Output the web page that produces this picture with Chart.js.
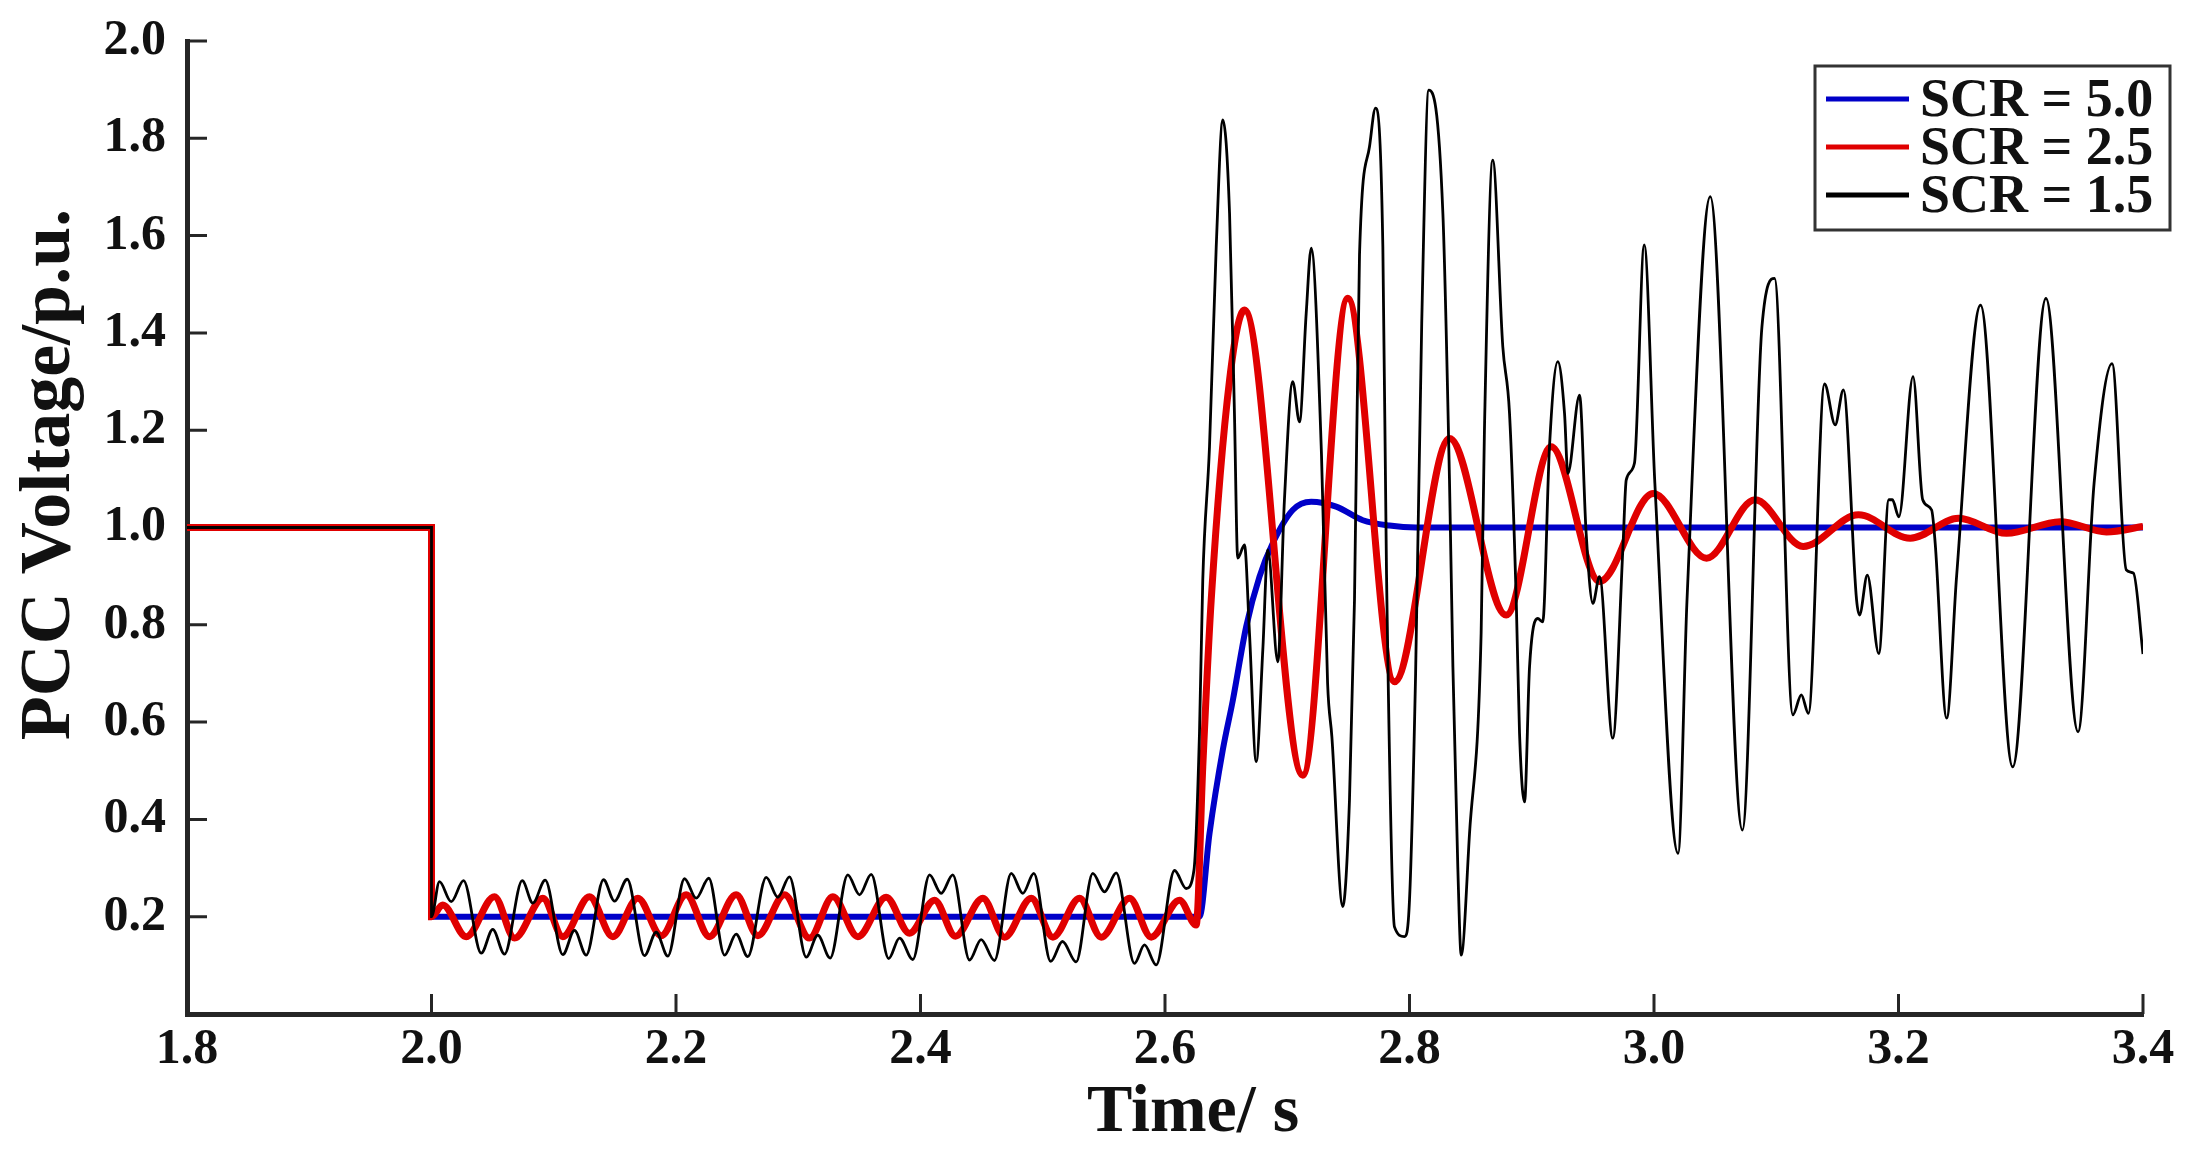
<!DOCTYPE html>
<html>
<head>
<meta charset="utf-8">
<title>PCC Voltage</title>
<script src="https://cdn.jsdelivr.net/npm/chart.js@4.4.1/dist/chart.umd.min.js"></script>
<style>
  html, body { margin: 0; padding: 0; background: #fff; }
  #wrap { width: 2209px; height: 1166px; position: relative; }
</style>
</head>
<body>
<div id="wrap"><canvas id="pcc"></canvas></div>
<script>
// axis ticks
const xTicks = [1.8, 2.0, 2.2, 2.4, 2.6, 2.8, 3.0, 3.2, 3.4];
const yTicks = [0.2, 0.4, 0.6, 0.8, 1.0, 1.2, 1.4, 1.6, 1.8, 2.0];

const seriesNames = ['SCR = 5.0', 'SCR = 2.5', 'SCR = 1.5'];

// SCR = 5.0  (time s / voltage p.u.)
const blueT = [1.8, 2.0, 2.0, 2.6282, 2.6364, 2.6473, 2.6555, 2.6664, 2.6773, 2.6882,
  2.7045, 2.7196, 2.7400, 2.7618, 2.7836, 2.8055, 3.4];
const blueV = [1.0, 1.0, 0.2, 0.2, 0.371, 0.543, 0.645, 0.796, 0.899, 0.968,
  1.036, 1.053, 1.043, 1.015, 1.004, 1.0, 1.0];

// SCR = 2.5
const redT = [1.8, 2.0, 2.0,
  2.0092, 2.0284, 2.0515, 2.0679, 2.0911, 2.1074, 2.1292, 2.1483, 2.1688, 2.1879,
  2.2083, 2.2274, 2.2492, 2.2669, 2.2888, 2.3092, 2.3283, 2.3487, 2.3719, 2.3910,
  2.4115, 2.4286, 2.4510, 2.4687, 2.4906, 2.5083, 2.5301, 2.5478, 2.5710, 2.5887,
  2.6119, 2.6255,
  2.6309, 2.6378, 2.6528, 2.6650, 2.7127, 2.7495, 2.7877, 2.8327, 2.8791, 2.9159,
  2.9554, 2.9993, 3.0430, 3.0826, 3.1220, 3.1673, 3.2096, 3.2491, 3.2884, 3.3323,
  3.3701, 3.4];
const redV = [1.0, 1.0, 0.2,
  0.224, 0.159, 0.241, 0.156, 0.238, 0.159, 0.241, 0.159, 0.238, 0.161,
  0.245, 0.159, 0.245, 0.161, 0.245, 0.156, 0.241, 0.159, 0.240, 0.166,
  0.234, 0.160, 0.238, 0.158, 0.238, 0.158, 0.238, 0.158, 0.238, 0.158,
  0.234, 0.183,
  0.508, 0.851, 1.303, 1.447, 0.491, 1.471, 0.683, 1.183, 0.820, 1.166,
  0.889, 1.070, 0.937, 1.057, 0.961, 1.026, 0.978, 1.019, 0.988, 1.012,
  0.991, 1.002];

// SCR = 1.5
const blackT = [1.8, 2.0, 2.0,
  2.0065, 2.0161, 2.0262, 2.0407, 2.0501, 2.0597,
  2.0742, 2.0829, 2.0930, 2.1074, 2.1170, 2.1265,
  2.1407, 2.1497, 2.1601, 2.1742, 2.1838, 2.1933,
  2.2070, 2.2165, 2.2268, 2.2397, 2.2492, 2.2587,
  2.2738, 2.2833, 2.2928, 2.3065, 2.3160, 2.3261,
  2.3405, 2.3501, 2.3597, 2.3740, 2.3828, 2.3937,
  2.4074, 2.4169, 2.4264, 2.4401, 2.4496, 2.4605,
  2.4742, 2.4837, 2.4927, 2.5065, 2.5161, 2.5273,
  2.5409, 2.5505, 2.5601, 2.5750, 2.5832, 2.5928,
  2.6078, 2.6173, 2.6237,
  2.6282, 2.6309, 2.6364, 2.6419, 2.6473, 2.6528, 2.6568, 2.6595, 2.6650, 2.6691,
  2.6746, 2.6800, 2.6841, 2.6923, 2.6977, 2.7045, 2.7100, 2.7155, 2.7196, 2.7280,
  2.7330, 2.7365, 2.7454, 2.7509, 2.7550, 2.7591, 2.7673, 2.7722, 2.7782, 2.7812,
  2.7877, 2.7959, 2.8000, 2.8050, 2.8100, 2.8158, 2.8273, 2.8327, 2.8355, 2.8395,
  2.8423, 2.8491, 2.8586, 2.8613, 2.8681, 2.8763, 2.8818, 2.8873, 2.8900, 2.8941,
  2.8982, 2.9049, 2.9090, 2.9145, 2.9213, 2.9268, 2.9295, 2.9391, 2.9445, 2.9500,
  2.9554, 2.9663, 2.9745, 2.9773, 2.9840, 2.9920, 3.0007, 3.0197, 3.0270, 3.0460,
  3.0723, 3.0883, 3.0986, 3.1136, 3.1205, 3.1263, 3.1395, 3.1482, 3.1549, 3.1657,
  3.1681, 3.1745, 3.1839, 3.1921, 3.1950, 3.2003, 3.2119, 3.2198, 3.2271, 3.2300,
  3.2394, 3.2475, 3.2671, 3.2934, 3.3206, 3.3469, 3.3600, 3.3747, 3.3863, 3.3922,
  3.4];
const blackV = [1.0, 1.0, 0.2,
  0.272, 0.231, 0.274, 0.125, 0.174, 0.123,
  0.274, 0.228, 0.275, 0.122, 0.172, 0.121,
  0.276, 0.232, 0.277, 0.120, 0.168, 0.119,
  0.278, 0.238, 0.279, 0.121, 0.164, 0.118,
  0.281, 0.240, 0.282, 0.117, 0.162, 0.115,
  0.286, 0.245, 0.287, 0.114, 0.156, 0.112,
  0.286, 0.248, 0.286, 0.111, 0.153, 0.110,
  0.289, 0.248, 0.289, 0.108, 0.149, 0.107,
  0.289, 0.251, 0.290, 0.104, 0.142, 0.101,
  0.295, 0.258, 0.296,
  0.577, 0.892, 1.166, 1.577, 1.838, 1.646, 1.235, 0.937, 0.964, 0.783,
  0.519, 0.748, 0.954, 0.724, 1.057, 1.300, 1.217, 1.440, 1.574, 1.150,
  0.680, 0.570, 0.221, 0.440, 0.851, 1.560, 1.783, 1.862, 1.577, 0.905,
  0.179, 0.159, 0.234, 0.700, 1.420, 1.899, 1.646, 1.098, 0.714, 0.303,
  0.121, 0.371, 0.783, 1.200, 1.755, 1.372, 1.235, 0.851, 0.577, 0.436,
  0.714, 0.813, 0.806, 1.166, 1.341, 1.235, 1.111, 1.272, 0.988, 0.844,
  0.899, 0.567, 0.954, 1.098, 1.132, 1.581, 1.091, 0.330, 0.851, 1.680,
  0.378, 1.413, 1.512, 0.615, 0.656, 0.618, 1.295, 1.211, 1.283, 0.851,
  0.820, 0.902, 0.741, 1.057, 1.057, 1.022, 1.310, 1.057, 1.036, 0.968,
  0.608, 0.899, 1.457, 0.508, 1.471, 0.580, 1.091, 1.337, 0.913, 0.906,
  0.740];

const serif = "'Liberation Serif', 'Times New Roman', serif";

function toPoints(ts, vs) {
  return ts.map((t, i) => ({ x: t, y: vs[i] }));
}

// inward ticks, axis titles and the boxed legend
const decorations = {
  id: 'decorations',
  beforeDatasetsDraw(chart) {
    const ctx = chart.ctx, a = chart.chartArea;
    const xs = chart.scales.x, ys = chart.scales.y;
    ctx.save();
    ctx.strokeStyle = '#262626';
    ctx.lineWidth = 3;
    ctx.beginPath();
    xTicks.forEach(v => {
      const px = xs.getPixelForValue(v);
      ctx.moveTo(px, a.bottom);
      ctx.lineTo(px, a.bottom - 20);
    });
    yTicks.forEach(v => {
      const py = ys.getPixelForValue(v);
      ctx.moveTo(a.left, py);
      ctx.lineTo(a.left + 20, py);
    });
    ctx.stroke();
    ctx.restore();
  },
  afterDraw(chart) {
    const ctx = chart.ctx, a = chart.chartArea;
    ctx.save();
    ctx.fillStyle = '#111';
    ctx.textAlign = 'center';
    ctx.textBaseline = 'alphabetic';
    ctx.font = 'bold 68px ' + serif;
    ctx.fillText('Time/ s', (a.left + a.right) / 2 + 28, a.bottom + 117);
    ctx.save();
    ctx.translate(69, (a.top + a.bottom) / 2 - 53);
    ctx.rotate(-Math.PI / 2);
    ctx.font = 'bold 72px ' + serif;
    ctx.fillText('PCC Voltage/p.u.', 0, 0);
    ctx.restore();

    // legend
    const L = a.right - 328, T = a.top + 25, W = 355, H = 164;
    ctx.fillStyle = '#fff';
    ctx.fillRect(L, T, W, H);
    ctx.strokeStyle = '#333';
    ctx.lineWidth = 3;
    ctx.strokeRect(L, T, W, H);
    ctx.font = 'bold 54px ' + serif;
    ctx.textAlign = 'left';
    ctx.textBaseline = 'middle';
    chart.data.datasets.forEach((ds, i) => {
      const y = T + 33 + i * 48;
      ctx.strokeStyle = ds.borderColor;
      ctx.lineWidth = 5;
      ctx.beginPath();
      ctx.moveTo(L + 11, y);
      ctx.lineTo(L + 94, y);
      ctx.stroke();
      ctx.fillStyle = '#111';
      ctx.fillText(ds.label, L + 105, y + 3);
    });
    ctx.restore();
  }
};

new Chart(document.getElementById('pcc'), {
  type: 'line',
  data: {
    datasets: [
      { label: seriesNames[0], data: toPoints(blueT, blueV), borderColor: '#0000c8',
        borderWidth: 6, order: 3 },
      { label: seriesNames[1], data: toPoints(redT, redV), borderColor: '#e00000',
        borderWidth: 7, order: 2 },
      { label: seriesNames[2], data: toPoints(blackT, blackV), borderColor: '#000000',
        borderWidth: 2.8, order: 1 }
    ]
  },
  options: {
    responsive: true,
    maintainAspectRatio: false,
    animation: false,
    layout: { padding: { top: 41, right: 66, left: 0, bottom: 0 } },
    elements: {
      point: { radius: 0, hoverRadius: 0 },
      line: { cubicInterpolationMode: 'monotone', fill: false }
    },
    plugins: { legend: { display: false }, tooltip: { enabled: false } },
    scales: {
      x: {
        type: 'linear', min: 1.8, max: 3.4,
        afterFit(s) { s.height = 152; },
        afterBuildTicks(s) { s.ticks = xTicks.map(v => ({ value: v })); },
        grid: { display: false, drawTicks: false },
        border: { display: true, width: 5, color: '#262626' },
        ticks: {
          padding: 6, color: '#111', autoSkip: false, maxRotation: 0,
          font: { family: serif, size: 50, weight: 'bold' },
          callback: v => v.toFixed(1)
        }
      },
      y: {
        type: 'linear', min: 0, max: 2.0,
        afterFit(s) { s.width = 187; },
        afterBuildTicks(s) { s.ticks = yTicks.map(v => ({ value: v })); },
        grid: { display: false, drawTicks: false },
        border: { display: true, width: 5, color: '#262626' },
        ticks: {
          padding: 21, color: '#111',
          font: { family: serif, size: 50, weight: 'bold', lineHeight: 0.5 },
          callback: v => v.toFixed(1)
        }
      }
    }
  },
  plugins: [decorations]
});
</script>
</body>
</html>
